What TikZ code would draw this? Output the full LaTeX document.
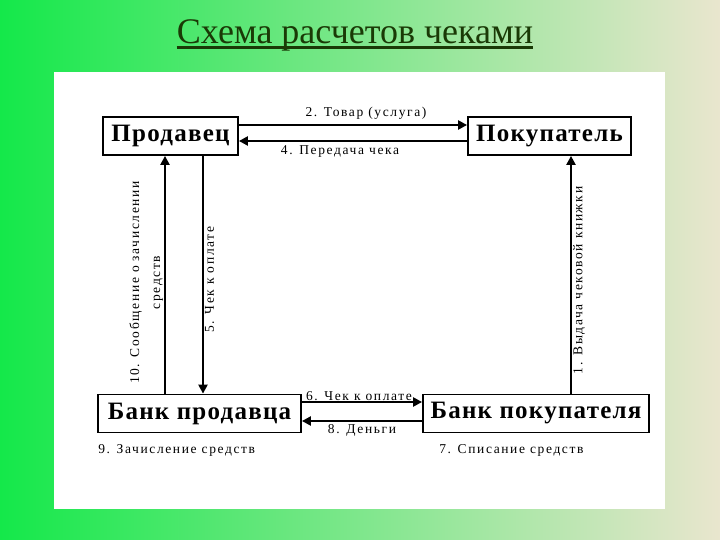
\documentclass[tikz,border=0pt]{standalone}
\usepackage{fontspec}
\setmainfont{Liberation Serif}
\newfontfamily\lblfont{Liberation Serif}[LetterSpace=12]
\newfontfamily\boxfont{Liberation Serif}[LetterSpace=5]
\usetikzlibrary{arrows.meta, positioning, calc}
\definecolor{titlegreen}{RGB}{26, 58, 6}
\definecolor{bgleft}{RGB}{20, 232, 74}
\definecolor{bgmid}{RGB}{168, 233, 158}
\definecolor{bgright}{RGB}{233, 230, 206}

\begin{document}
\begin{tikzpicture}[x=1pt, y=-1pt,
  party/.style={draw, line width=1.8pt, fill=white, inner sep=0pt, minimum height=38pt,
    font=\boxfont\fontsize{25}{27}\selectfont\bfseries},
  flow/.style={line width=2.2pt, -{Triangle[length=9pt, width=9pt]}},
  lbl/.style={font=\lblfont\fontsize{13.5}{21}\selectfont, inner sep=1pt}]
  \useasboundingbox (0,0) rectangle (720,540);

  % Background and sheet
  \shade[left color=bgleft, middle color=bgmid, right color=bgright] (0,0) rectangle (720,540);
  \fill[white] (54,72) rectangle (665,509);

  % Title
  \node[font=\fontsize{36}{40}\selectfont, text=titlegreen, inner sep=0pt, anchor=base] (title) at (355,44) {Схема расчетов чеками};
  \draw[titlegreen, line width=3pt] ([yshift=-3.5pt]title.base west) -- ([yshift=-3.5pt]title.base east);

  % Participants
  \node[party, minimum width=135pt] (seller) at (170.5,136) {Продавец};
  \node[party, minimum width=163pt] (buyer) at (549.5,136) {Покупатель};
  \node[party, minimum width=203pt] (sellerbank) at (199.5,413.5) {Банк продавца};
  \node[party, minimum width=226pt] (buyerbank) at (536,413.5) {Банк покупателя};

  % Seller <-> buyer
  \draw[flow] ([yshift=11pt]seller.east) -- ([yshift=11pt]buyer.west)
    node[lbl, midway, above=3pt, xshift=13pt] {2. Товар (услуга)};
  \draw[flow] ([yshift=-5pt]buyer.west) -- ([yshift=-5pt]seller.east)
    node[lbl, midway, below=3pt, xshift=-13pt] {4. Передача чека};

  % Banks
  \draw[flow] ([yshift=11.5pt]sellerbank.east) -- ([yshift=11.5pt]buyerbank.west)
    node[lbl, midway, above=-1pt, xshift=-3pt] {6. Чек к оплате};
  \draw[flow] ([yshift=-7.5pt]buyerbank.west) -- ([yshift=-7.5pt]sellerbank.east)
    node[lbl, midway, below=1pt] {8. Деньги};

  % Vertical flows
  \draw[flow] (sellerbank.north -| 165,0) -- (seller.south -| 165,0)
    node[lbl, pos=0.45, rotate=90, above=4pt, align=center] {10. Сообщение о зачислении\\средств};
  \draw[flow] (seller.south -| 203,0) -- (sellerbank.north -| 203,0)
    node[lbl, midway, rotate=90, below=5pt] {5. Чек к оплате};
  \draw[flow] (buyerbank.north -| 571,0) -- (buyer.south -| 571,0)
    node[lbl, pos=0.51, rotate=90, below=8pt] {1. Выдача чековой книжки};

  % Notes under the banks
  \node[lbl, anchor=north west] (credit) at ([yshift=-10pt]sellerbank.south west) {9. Зачисление средств};
  \node[lbl, anchor=north west] (debit) at ([xshift=16pt, yshift=-10pt]buyerbank.south west) {7. Списание средств};
\end{tikzpicture}
\end{document}
